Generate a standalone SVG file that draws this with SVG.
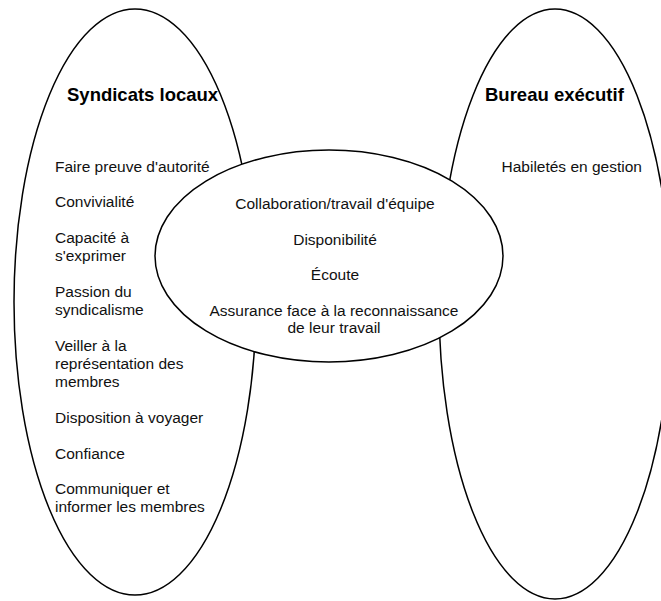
<svg xmlns="http://www.w3.org/2000/svg" width="661" height="601" viewBox="0 0 661 601">
  <style>
    .shape { fill: #ffffff; stroke: #000000; stroke-width: 1.5; }
    .title { font-family: "Liberation Sans", Arial, sans-serif; font-size: 18.5px; font-weight: bold; fill: #000000; }
    .item { font-family: "Liberation Sans", Arial, sans-serif; font-size: 15.5px; fill: #111111; }
    .mid { text-anchor: middle; }
  </style>
  <rect x="0" y="0" width="661" height="601" fill="#ffffff"/>

  <!-- Local unions -->
  <g id="syndicats-locaux">
    <ellipse class="shape" cx="135" cy="302" rx="121" ry="293"/>
    <text class="title" x="67" y="101">Syndicats locaux</text>
    <text class="item" x="55" y="171.5">Faire preuve d'autorité</text>
    <text class="item" x="55" y="207">Convivialité</text>
    <text class="item" x="55" y="243">Capacité à</text>
    <text class="item" x="55" y="261">s'exprimer</text>
    <text class="item" x="55" y="297">Passion du</text>
    <text class="item" x="55" y="315">syndicalisme</text>
    <text class="item" x="55" y="350.5">Veiller à la</text>
    <text class="item" x="55" y="368.5">représentation des</text>
    <text class="item" x="55" y="386.5">membres</text>
    <text class="item" x="55" y="422.5">Disposition à voyager</text>
    <text class="item" x="55" y="458.5">Confiance</text>
    <text class="item" x="55" y="494">Communiquer et</text>
    <text class="item" x="55" y="512">informer les membres</text>
  </g>

  <!-- Executive office -->
  <g id="bureau-executif">
    <ellipse class="shape" cx="555" cy="304" rx="116" ry="295"/>
    <text class="title" x="485" y="101">Bureau exécutif</text>
    <text class="item" x="501.5" y="171.5">Habiletés en gestion</text>
  </g>

  <!-- Shared qualities (overlap) -->
  <g id="commun">
    <ellipse class="shape" cx="329" cy="256" rx="174" ry="106"/>
    <text class="item mid" x="335" y="209">Collaboration/travail d'équipe</text>
    <text class="item mid" x="335" y="245">Disponibilité</text>
    <text class="item mid" x="335" y="280">Écoute</text>
    <text class="item mid" x="334" y="315.5">Assurance face à la reconnaissance</text>
    <text class="item mid" x="334" y="333">de leur travail</text>
  </g>
</svg>
